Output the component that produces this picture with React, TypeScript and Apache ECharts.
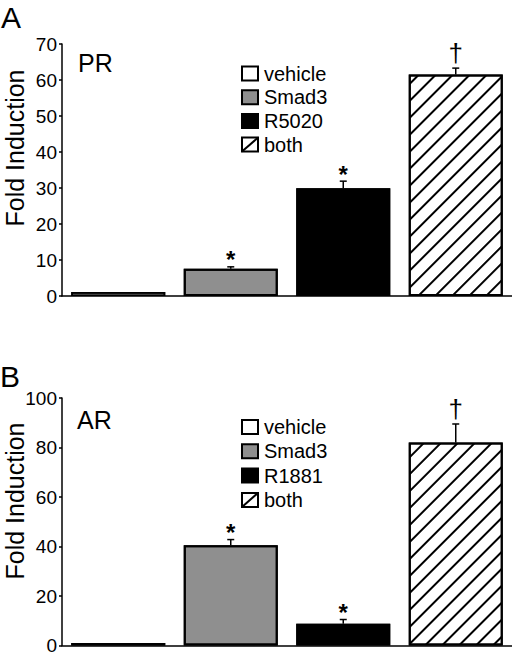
import React, { useEffect, useRef } from "react";
import * as echarts from "echarts";

const catsA = ["vehicle", "Smad3", "R5020", "both"];
const valsA = [1.1, 7.6, 29.9, 61.5];
const errA = [0, 0.5, 2.0, 1.8];
const markA = ["", "*", "*", "†"];
const yTicksA = { max: 70, interval: 10 };

const catsB = ["vehicle", "Smad3", "R1881", "both"];
const valsB = [1, 40.5, 8.8, 82];
const errB = [0, 2.3, 1.7, 7.5];
const markB = ["", "*", "*", "†"];
const yTicksB = { max: 100, interval: 20 };

const FONT = "Liberation Sans, Arial, Helvetica, sans-serif";
const fills = ["#ffffff", "#8f8f8f", "#000000", "#ffffff"];
const hatch = {
  symbol: "rect",
  symbolSize: 1,
  dashArrayX: [1, 0],
  dashArrayY: [2, 10],
  rotation: -Math.PI / 4,
  color: "#000000",
};

function barData(vals: number[]) {
  return vals.map((v, i) => ({
    value: v,
    itemStyle: {
      color: fills[i],
      borderColor: "#000",
      borderWidth: i === 0 ? 1.6 : 2,
      decal: i === 3 ? hatch : { symbol: "none" },
    },
  }));
}

function errSeries(idx: number, vals: number[], errs: number[], marks: string[]) {
  return {
    type: "custom",
    xAxisIndex: idx,
    yAxisIndex: idx,
    data: vals.map((v, i) => [i, v, v + errs[i]]),
    renderItem: (params: any, api: any) => {
      const i = api.value(0);
      const v = api.value(1);
      const e = api.value(2);
      const p0 = api.coord([i, v]);
      const p1 = api.coord([i, e]);
      const children: any[] = [];
      if (e > v) {
        children.push({
          type: "line",
          shape: { x1: p0[0], y1: p0[1], x2: p1[0], y2: p1[1] },
          style: { stroke: "#000", lineWidth: 1.5 },
        });
        children.push({
          type: "line",
          shape: { x1: p1[0] - 3.5, y1: p1[1], x2: p1[0] + 3.5, y2: p1[1] },
          style: { stroke: "#000", lineWidth: 1.5 },
        });
      }
      const m = marks[params.dataIndex];
      if (m) {
        const dagger = m === "†";
        children.push({
          type: "text",
          x: p1[0],
          y: dagger ? p1[1] - 2 : p1[1] + 5,
          style: {
            text: m,
            fontSize: dagger ? 26 : 24,
            fontWeight: dagger ? "normal" : "bold",
            fontFamily: FONT,
            fill: "#000",
            align: "center",
            verticalAlign: "bottom",
          },
        });
      }
      return { type: "group", children };
    },
  };
}

function legend(labels: string[], top: number, gap: number) {
  const els: any[] = [];
  labels.forEach((l, i) => {
    const cy = top + i * gap;
    els.push({
      type: "rect",
      shape: { x: 242, y: cy - 7, width: 16, height: 14 },
      style: { fill: fills[i], stroke: "#000", lineWidth: 2 },
    });
    if (i === 3) {
      els.push({
        type: "line",
        shape: { x1: 242, y1: cy + 7, x2: 258, y2: cy - 7 },
        style: { stroke: "#000", lineWidth: 2 },
      });
    }
    els.push({
      type: "text",
      x: 264,
      y: cy,
      style: {
        text: l,
        fontSize: 20,
        fontFamily: FONT,
        fill: "#000",
        align: "left",
        verticalAlign: "middle",
      },
    });
  });
  return els;
}

function txt(text: string, x: number, y: number, size: number, rot = 0, align = "left") {
  return {
    type: "text",
    x,
    y,
    rotation: rot,
    style: {
      text,
      fontSize: size,
      fontFamily: FONT,
      fill: "#000",
      align,
      verticalAlign: "middle",
    },
  };
}

function yAxis(idx: number, t: { max: number; interval: number }) {
  return {
    type: "value",
    gridIndex: idx,
    min: 0,
    max: t.max,
    interval: t.interval,
    splitLine: { show: false },
    axisLine: { show: true, lineStyle: { color: "#000", width: 1.5 } },
    axisTick: { show: true, length: 3, lineStyle: { color: "#000", width: 1.5 } },
    axisLabel: { fontSize: 19, fontFamily: FONT, color: "#000", margin: 5 },
  };
}

function xAxis(idx: number, cats: string[]) {
  return {
    type: "category",
    gridIndex: idx,
    data: cats,
    axisLine: { show: true, lineStyle: { color: "#000", width: 1.5 } },
    axisTick: { show: false },
    axisLabel: { show: false },
  };
}

export default function App() {
  const ref = useRef<HTMLDivElement>(null);
  useEffect(() => {
    const chart = echarts.init(ref.current!, null, { renderer: "svg" });
    chart.setOption({
      animation: false,
      backgroundColor: "#ffffff",
      grid: [
        { left: 62, top: 44, right: -1, height: 252 },
        { left: 62, top: 398, right: -1, height: 250 },
      ],
      xAxis: [xAxis(0, catsA), xAxis(1, catsB)],
      yAxis: [yAxis(0, yTicksA), yAxis(1, yTicksB)],
      series: [
        { type: "bar", xAxisIndex: 0, yAxisIndex: 0, barWidth: 94, data: barData(valsA) },
        { type: "bar", xAxisIndex: 1, yAxisIndex: 1, barWidth: 94, data: barData(valsB) },
        errSeries(0, valsA, errA, markA),
        errSeries(1, valsB, errB, markB),
      ],
      graphic: [
        txt("A", 1, 17, 30),
        txt("PR", 78, 63, 25),
        txt("Fold Induction", 15, 148, 25, Math.PI / 2, "center"),
        ...legend(catsA, 73.5, 23.7),
        txt("B", 0, 376, 30),
        txt("AR", 77, 420, 25),
        txt("Fold Induction", 15, 501, 25, Math.PI / 2, "center"),
        ...legend(catsB, 427, 24.3),
      ],
    });
    return () => chart.dispose();
  }, []);
  return (
    <div
      ref={ref}
      style={{ position: "fixed", left: 0, top: 0, width: 512, height: 655 }}
    />
  );
}
